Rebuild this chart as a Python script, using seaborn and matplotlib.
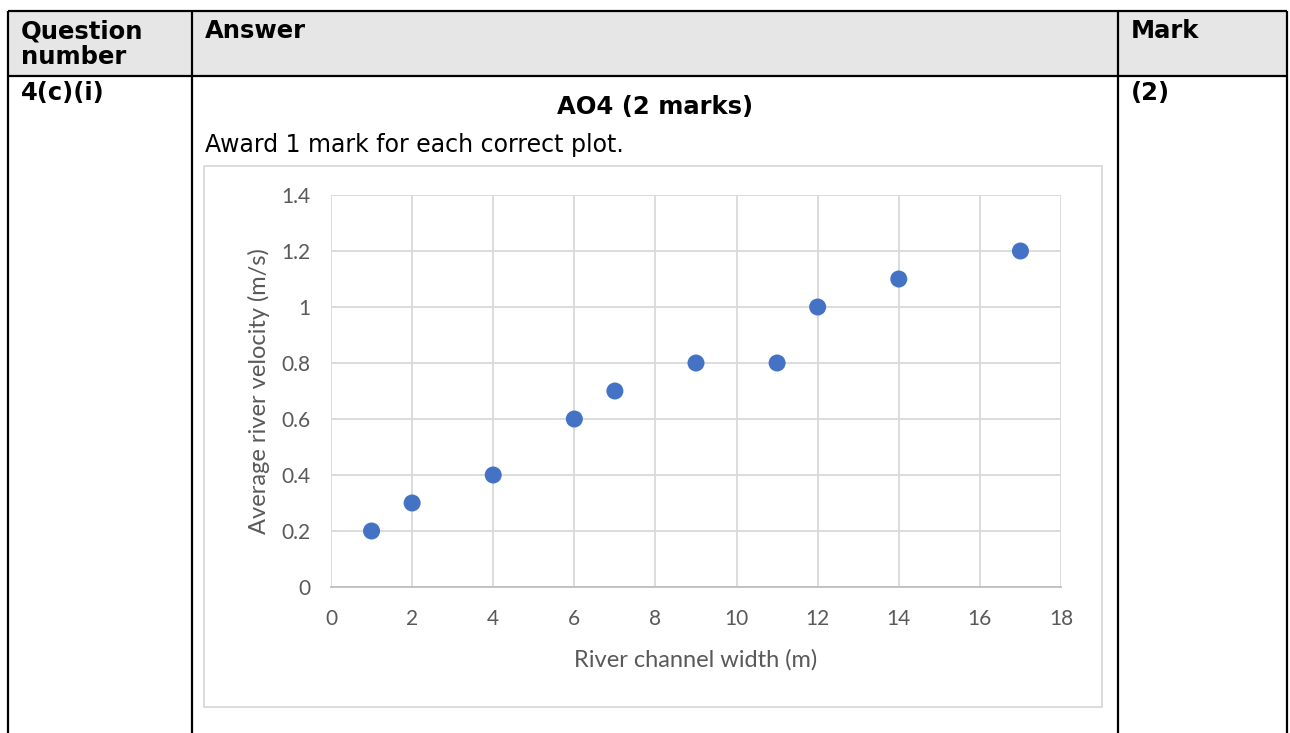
import matplotlib
matplotlib.use("Agg")
import matplotlib.pyplot as plt
from matplotlib.patches import Rectangle
import seaborn as sns
import pandas as pd

# data
width_m = [1, 2, 4, 6, 7, 9, 11, 12, 14, 17]
velocity = [0.2, 0.3, 0.4, 0.6, 0.7, 0.8, 0.8, 1.0, 1.1, 1.2]
x_ticks = [0, 2, 4, 6, 8, 10, 12, 14, 16, 18]
y_ticks = [0, 0.2, 0.4, 0.6, 0.8, 1.0, 1.2, 1.4]
y_tick_labels = ["0", "0.2", "0.4", "0.6", "0.8", "1", "1.2", "1.4"]

W, H = 1290, 733
fig = plt.figure(figsize=(W / 100, H / 100), dpi=100)

# table drawn in pixel space
bg = fig.add_axes([0, 0, 1, 1])
bg.set_xlim(0, W)
bg.set_ylim(H, 0)
bg.axis("off")

lw = 1.6
bg.add_patch(Rectangle((8, 11), 1287 - 8, 76 - 11, facecolor="#e6e6e6", edgecolor="none"))
for xv in [8, 192, 1118, 1287]:
    bg.plot([xv, xv], [11, H], color="black", lw=lw, solid_capstyle="butt")
for yv in [11, 76]:
    bg.plot([8, 1287], [yv, yv], color="black", lw=lw, solid_capstyle="butt")

bold = dict(fontsize=17.5, fontweight="bold", family="DejaVu Sans", color="black")
bg.text(21, 31, "Question", va="center", ha="left", **bold)
bg.text(21, 57, "number", va="center", ha="left", **bold)
bg.text(205, 31, "Answer", va="center", ha="left", **bold)
bg.text(1131, 31, "Mark", va="center", ha="left", **bold)
bg.text(21, 93, "4(c)(i)", va="center", ha="left", **bold)
bg.text(1131, 93, "(2)", va="center", ha="left", **bold)
bg.text(655, 107, "AO4 (2 marks)", va="center", ha="center", **bold)
bg.text(205, 145, "Award 1 mark for each correct plot.", va="center", ha="left",
        fontsize=17, family="DejaVu Sans", color="black")

# chart frame
bg.add_patch(Rectangle((204, 166), 1102 - 204, 707 - 166, facecolor="white",
                       edgecolor="#d9d9d9", lw=1.3))

# scatter plot
x0, x1, y0, y1 = 331, 1061, 195, 587
ax = fig.add_axes([x0 / W, (H - y1) / H, (x1 - x0) / W, (y1 - y0) / H])
df = pd.DataFrame({"width": width_m, "velocity": velocity})
sns.scatterplot(data=df, x="width", y="velocity", ax=ax, color="#4472c4",
                s=150, edgecolor="none", zorder=3)
ax.set_xlim(0, 18)
ax.set_ylim(0, 1.4)
ax.set_xticks(x_ticks)
ax.set_yticks(y_ticks)
ax.set_yticklabels(y_tick_labels)
ax.grid(True, color="#d9d9d9", lw=1.3)
ax.set_axisbelow(True)
for side in ["top", "right", "left"]:
    ax.spines[side].set_visible(False)
ax.spines["bottom"].set_color("#bfbfbf")
ax.spines["bottom"].set_linewidth(1.3)
ax.tick_params(length=0, labelsize=15, labelcolor="#595959")
ax.tick_params(axis="x", pad=16)
ax.tick_params(axis="y", pad=15)
for lab in ax.get_xticklabels() + ax.get_yticklabels():
    lab.set_family("Lato")
ax.set_xlabel("River channel width (m)", fontsize=17, color="#595959", family="Lato",
              labelpad=14)
ax.set_ylabel("Average river velocity (m/s)", fontsize=17, color="#595959", family="Lato",
              labelpad=8)

fig.savefig("out.png", dpi=100)
